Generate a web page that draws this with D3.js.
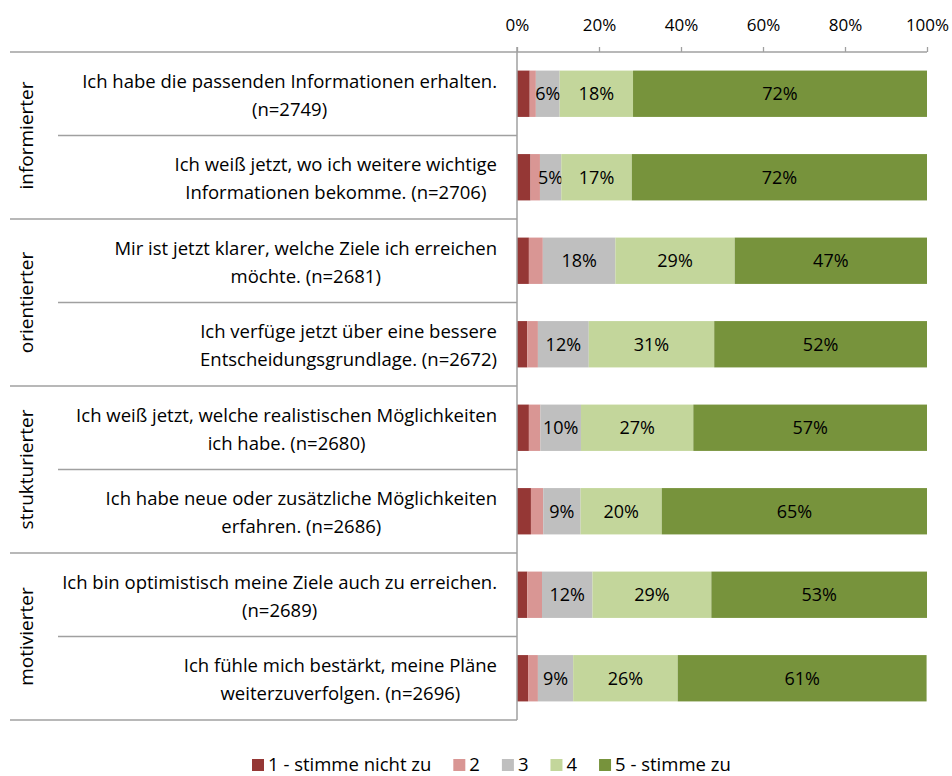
<!DOCTYPE html>
<html>
<head>
<meta charset="utf-8">
<script src="https://cdn.jsdelivr.net/npm/d3@7"></script>
<style>
  body { margin: 0; background: #fff; }
  text { font-family: "Open Sans", sans-serif; fill: #000; }
</style>
</head>
<body>
<div id="chart"></div>
<script>
// gruppen und aussagen
var groups = ["informierter", "orientierter", "strukturierter", "motivierter"]
var items = [
  ["Ich habe die passenden Informationen erhalten.", "(n=2749)"],
  ["Ich weiß jetzt, wo ich weitere wichtige", "Informationen bekomme. (n=2706)"],
  ["Mir ist jetzt klarer, welche Ziele ich erreichen", "möchte. (n=2681)"],
  ["Ich verfüge jetzt über eine bessere", "Entscheidungsgrundlage. (n=2672)"],
  ["Ich weiß jetzt, welche realistischen Möglichkeiten", "ich habe. (n=2680)"],
  ["Ich habe neue oder zusätzliche Möglichkeiten", "erfahren. (n=2686)"],
  ["Ich bin optimistisch meine Ziele auch zu erreichen.", "(n=2689)"],
  ["Ich fühle mich bestärkt, meine Pläne", "weiterzuverfolgen. (n=2696)"]
]
var itemGroup = [0, 0, 1, 1, 2, 2, 3, 3]

// anteile in % je antwortstufe
var s1 = [3.1, 3.3, 2.9, 2.5, 2.9, 3.4, 2.5, 2.7]
var s2 = [1.5, 2.3, 3.4, 2.6, 2.8, 3.0, 3.6, 2.4]
var s3 = [5.8, 5.2, 17.7, 12.4, 9.9, 9.1, 12.3, 8.6]
var s4 = [17.9, 17.2, 29.1, 30.6, 27.4, 19.8, 29.0, 25.5]
var s5 = [71.7, 72.0, 46.9, 51.9, 57.0, 64.7, 52.6, 60.7]

var levels = ["1 - stimme nicht zu", "2", "3", "4", "5 - stimme zu"]
var colors = ["#953735", "#d99694", "#bfbfbf", "#c3d69b", "#77933c"]
var showLabel = [false, false, true, true, true]
var ticks = [0, 20, 40, 60, 80, 100]

var series = [s1, s2, s3, s4, s5]
var rows = items.map((d, i) => {
  var r = { i: i }
  series.forEach((s, k) => { r["k" + k] = s[i] })
  return r
})
var stacked = d3.stack().keys(levels.map((d, k) => "k" + k))(rows)

var svg = d3.select("#chart")
  .append("svg")
  .attr("width", 952)
  .attr("height", 776)

var x = d3.scaleLinear().domain([0, 100]).range([517, 927])
var y = d3.scaleBand().domain(d3.range(items.length)).range([52, 720])
  .paddingInner(0.445).paddingOuter(0.2225)
var lineColor = "#a0a0a0"

// balken
stacked.forEach((layer, k) => {
  var g = svg.append("g")
  g.selectAll("rect")
    .data(layer)
    .join("rect")
    .attr("x", d => x(d[0]))
    .attr("y", (d, i) => y(i))
    .attr("width", d => x(d[1]) - x(d[0]))
    .attr("height", y.bandwidth())
    .style("fill", colors[k])

  if (showLabel[k]) {
    g.selectAll("text")
      .data(layer)
      .join("text")
      .attr("x", d => (x(d[0]) + x(d[1])) / 2)
      .attr("y", (d, i) => y(i) + y.bandwidth() / 2 + 6.5)
      .attr("text-anchor", "middle")
      .style("font-size", "18px")
      .text(d => Math.round(d[1] - d[0]) + "%")
  }
})

// x achse oben
var xAxis = d3.axisTop(x).tickValues(ticks).tickSize(5).tickFormat(d => d + "%")
var ax = svg.append("g").attr("transform", "translate(0,52)").call(xAxis)
ax.select(".domain").remove()
ax.selectAll(".tick line").style("stroke", lineColor).style("stroke-width", 1.3)
ax.selectAll(".tick text").attr("y", -21).style("font-size", "17px").style("fill", "#000")

svg.append("line")
  .attr("x1", 10).attr("y1", 52).attr("x2", 927).attr("y2", 52)
  .style("stroke", lineColor).style("stroke-width", 1.5)

// senkrechte achse
svg.append("line")
  .attr("x1", 517).attr("y1", 47).attr("x2", 517).attr("y2", 720)
  .style("stroke", lineColor).style("stroke-width", 1.5)

// trennlinien
var step = y.step()
items.forEach((d, i) => {
  if (i == 0) return
  var full = itemGroup[i] != itemGroup[i - 1]
  svg.append("line")
    .attr("x1", full ? 10 : 58)
    .attr("y1", 52 + i * step)
    .attr("x2", 517)
    .attr("y2", 52 + i * step)
    .style("stroke", lineColor)
    .style("stroke-width", 1.5)
})
svg.append("line")
  .attr("x1", 10).attr("y1", 720).attr("x2", 517).attr("y2", 720)
  .style("stroke", lineColor).style("stroke-width", 1.5)

// aussagen: block rechtsbündig, zeilen darin zentriert
items.forEach((lines, i) => {
  var cy = y(i) + y.bandwidth() / 2
  var texts = lines.map((t, j) => svg.append("text")
    .attr("y", cy - 6 + j * 28)
    .attr("text-anchor", "middle")
    .style("font-size", "18.5px")
    .text(t))
  var w = d3.max(texts, t => t.node().getComputedTextLength())
  texts.forEach(t => t.attr("x", 497 - w / 2))
})

// gruppen
groups.forEach((gname, gi) => {
  var idx = itemGroup.map((g, i) => g == gi ? i : -1).filter(i => i >= 0)
  var cy = 52 + (idx[0] + idx[idx.length - 1] + 1) / 2 * step
  svg.append("text")
    .attr("transform", "translate(33," + cy + ") rotate(-90)")
    .attr("text-anchor", "middle")
    .style("font-size", "19px")
    .text(gname)
})

// legende
var lx = 252
levels.forEach((name, k) => {
  svg.append("rect")
    .attr("x", lx).attr("y", 759)
    .attr("width", 12).attr("height", 12)
    .style("fill", colors[k])
  var t = svg.append("text")
    .attr("x", lx + 16)
    .attr("y", 771)
    .style("font-size", "18.5px")
    .text(name)
  lx = lx + 16 + t.node().getComputedTextLength() + 22
})
</script>
</body>
</html>
